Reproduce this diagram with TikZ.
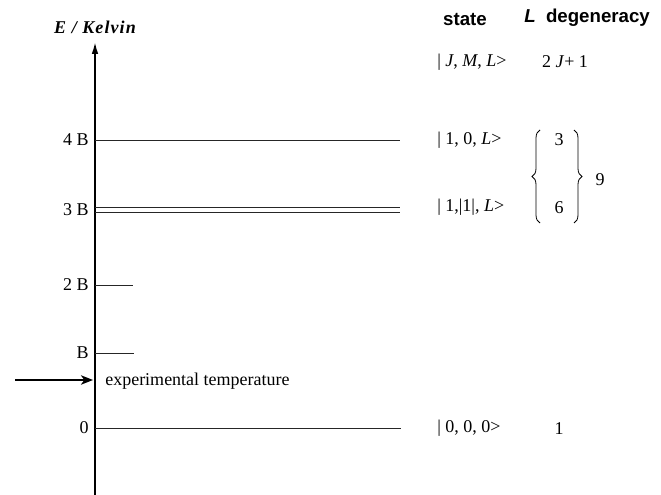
\documentclass[tikz,border=0pt]{standalone}
\usepackage{fontspec}
\setmainfont{Liberation Serif}
\setsansfont{Liberation Sans}
\usetikzlibrary{arrows.meta,positioning,decorations.pathreplacing}

\tikzset{
  axisline/.style={line width=1.3pt,-{Latex[length=9pt,width=5pt]}},
  levelline/.style={line width=0.6pt,draw=black!85},
  tarrow/.style={line width=1.7pt,-{Stealth[length=9pt,width=7pt,inset=2.5pt]}},
  vallabel/.style={anchor=east,inner sep=0pt,font=\fontsize{13.5}{15}\selectfont},
  ketlabel/.style={anchor=west,inner sep=0pt,font=\fontsize{13.5}{15}\selectfont},
  deglabel/.style={inner sep=0pt,font=\fontsize{13.5}{15}\selectfont},
  headlabel/.style={inner sep=0pt,font=\sffamily\bfseries\fontsize{14}{16}\selectfont},
  degbrace/.style={line width=0.6pt,decorate,decoration={brace,amplitude=6pt}}
}

\begin{document}
\begin{tikzpicture}[x=0.75pt,y=-0.75pt]
  \useasboundingbox (0,0) rectangle (661,495);
  %% Axis
  \coordinate (axbot) at (95,495);
  \coordinate (axtop) at (95,42);
  \draw[axisline] (axbot) -- (axtop);
  \node[inner sep=0pt,font=\bfseries\itshape\fontsize{13.5}{15}\selectfont]
        (eaxis) at (95,27) {\addfontfeature{LetterSpace=6}E / Kelvin};
  %% Column headers
  \node[headlabel] (hstate) at (465,20) {state};
  \node[headlabel,anchor=west] (hdeg) at (524,18) {\itshape L\upshape\ \ degeneracy};
  %% Levels
  \coordinate (lvfourA) at (95,140);   \coordinate (lvfourB) at (400,140);
  \coordinate (lvthrA) at (95,207);    \coordinate (lvthrB) at (400,207);
  \coordinate (lvthrC) at (95,212);    \coordinate (lvthrD) at (400,212);
  \coordinate (lvtwoA) at (95,285);    \coordinate (lvtwoB) at (133,285);
  \coordinate (lvoneA) at (95,353);    \coordinate (lvoneB) at (134,353);
  \coordinate (lvzeroA) at (95,428);   \coordinate (lvzeroB) at (401,428);
  \draw[levelline] (lvfourA) -- (lvfourB);
  \draw[levelline] (lvthrA) -- (lvthrB);
  \draw[levelline] (lvthrC) -- (lvthrD);
  \draw[levelline] (lvtwoA) -- (lvtwoB);
  \draw[levelline] (lvoneA) -- (lvoneB);
  \draw[levelline] (lvzeroA) -- (lvzeroB);
  %% Energy values
  \node[vallabel] (vfour) at (89,140) {4 B};
  \node[vallabel] (vthree) at (89,210) {3 B};
  \node[vallabel] (vtwo) at (89,285) {2 B};
  \node[vallabel] (vone) at (89,353) {B};
  \node[vallabel] (vzero) at (89,428) {0};
  %% Experimental temperature
  \coordinate (tstart) at (15,380);
  \coordinate (tend) at (93,380);
  \draw[tarrow] (tstart) -- (tend);
  \node[ketlabel] (ttext) at (105,381) {experimental temperature};
  %% States
  \node[ketlabel] (kgen) at (437,62) {| \textit{J}, \textit{M}, \textit{L}>};
  \node[ketlabel] (kten) at (437,140) {| 1, 0, \textit{L}>};
  \node[ketlabel] (ktone) at (437,207) {| 1,|1|, \textit{L}>};
  \node[ketlabel] (kzero) at (437,428) {| 0, 0, 0>};
  %% Degeneracies
  \node[deglabel] (dgen) at (565,62) {2 \textit{J}+ 1};
  \node[deglabel] (dthree) at (559,140) {3};
  \node[deglabel] (dsix) at (559,208) {6};
  \node[deglabel] (dnine) at (600,180) {9};
  \node[deglabel] (dzero) at (559,429) {1};
  \coordinate (brlA) at (540,223); \coordinate (brlB) at (540,130);
  \coordinate (brrA) at (574,130); \coordinate (brrB) at (574,223);
  \draw[degbrace] (brlA) -- (brlB);
  \draw[degbrace] (brrA) -- (brrB);
\end{tikzpicture}
\end{document}
